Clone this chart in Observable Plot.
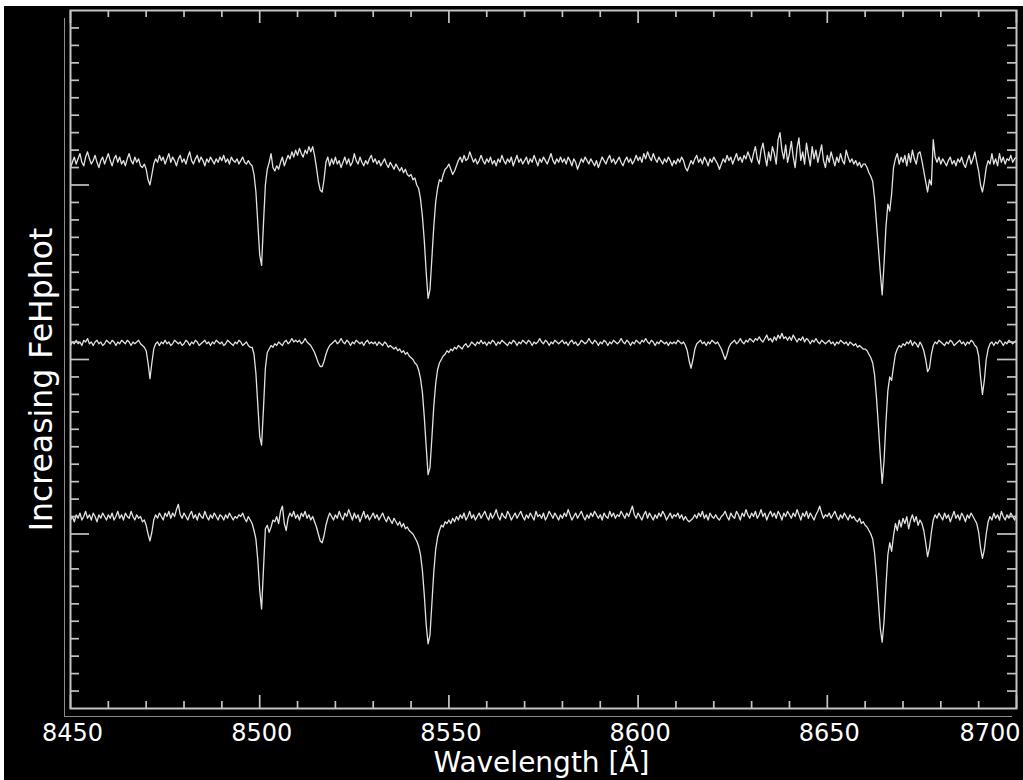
<!DOCTYPE html>
<html>
<head>
<meta charset="utf-8">
<script src="https://cdn.jsdelivr.net/npm/d3@7"></script>
<script src="https://cdn.jsdelivr.net/npm/@observablehq/plot@0.6"></script>
<style>
html, body { margin: 0; padding: 0; background: #fff; }
#chart { position: absolute; left: 4px; top: 6px; width: 1019px; height: 774px; background: #000; overflow: hidden; }
</style>
</head>
<body>
<div id="chart"></div>
<script>
// ---- data ----
const xTitle = "Wavelength [Å]";
const yTitle = "Increasing FeHphot";
const xDomain = [8450, 8700];
const yDomain = [0, 4];
const xTickLabels = [8450, 8500, 8550, 8600, 8650, 8700];
const yMajor = [1, 2, 3];
const lambdaStart = 8450;
const lambdaStep = 0.5;
const seriesNames = ["high", "mid", "low"];

const spectrumHigh = [
3.10,3.13,3.16,3.12,3.15,3.18,3.13,3.11,3.16,3.19,3.15,3.12,3.14,3.17,3.13,3.10,3.14,3.16,3.12,3.15,
3.18,3.14,3.11,3.15,3.17,3.13,3.16,3.12,3.14,3.11,3.15,3.18,3.14,3.12,3.16,3.13,3.15,3.11,3.10,3.12,
3.09,3.03,3.00,3.06,3.12,3.15,3.13,3.17,3.14,3.16,3.12,3.15,3.18,3.13,3.16,3.14,3.11,3.15,3.17,3.13,
3.15,3.12,3.16,3.19,3.14,3.12,3.15,3.17,3.13,3.16,3.14,3.11,3.15,3.13,3.16,3.14,3.12,3.15,3.13,3.16,
3.14,3.17,3.13,3.15,3.12,3.16,3.14,3.13,3.15,3.12,3.14,3.16,3.13,3.12,3.14,3.12,3.11,3.06,2.96,2.78,
2.60,2.54,2.78,3.00,3.09,3.13,3.18,3.10,3.08,3.11,3.09,3.13,3.16,3.11,3.14,3.17,3.15,3.19,3.16,3.20,
3.17,3.21,3.18,3.16,3.20,3.18,3.22,3.19,3.22,3.17,3.10,3.02,2.97,2.96,3.03,3.13,3.16,3.11,3.15,3.12,
3.16,3.12,3.14,3.10,3.13,3.16,3.12,3.15,3.11,3.13,3.18,3.14,3.12,3.16,3.13,3.11,3.14,3.12,3.15,3.17,
3.13,3.15,3.12,3.14,3.11,3.13,3.15,3.12,3.10,3.13,3.11,3.09,3.12,3.10,3.08,3.10,3.07,3.09,3.06,3.05,
3.06,3.03,3.04,3.00,2.98,2.92,2.82,2.68,2.50,2.35,2.40,2.58,2.76,2.90,2.98,3.03,3.02,3.06,3.09,3.10,
3.12,3.09,3.06,3.08,3.11,3.14,3.16,3.13,3.17,3.14,3.15,3.19,3.16,3.13,3.15,3.12,3.14,3.17,3.14,3.12,
3.15,3.13,3.16,3.12,3.14,3.11,3.15,3.13,3.17,3.14,3.12,3.15,3.13,3.16,3.11,3.14,3.17,3.13,3.15,3.12,
3.14,3.16,3.12,3.15,3.13,3.17,3.14,3.11,3.15,3.13,3.16,3.14,3.12,3.15,3.18,3.14,3.12,3.15,3.13,3.16,
3.13,3.15,3.12,3.16,3.14,3.11,3.15,3.13,3.09,3.12,3.15,3.13,3.16,3.14,3.12,3.15,3.13,3.11,3.14,3.10,
3.13,3.16,3.14,3.12,3.15,3.17,3.13,3.15,3.12,3.14,3.16,3.13,3.11,3.14,3.16,3.13,3.15,3.12,3.14,3.17,
3.14,3.16,3.13,3.18,3.15,3.19,3.16,3.14,3.18,3.15,3.13,3.16,3.14,3.12,3.15,3.13,3.16,3.14,3.11,3.14,
3.12,3.15,3.13,3.16,3.14,3.10,3.08,3.11,3.14,3.12,3.15,3.17,3.13,3.15,3.12,3.16,3.14,3.11,3.15,3.13,
3.16,3.14,3.12,3.09,3.12,3.15,3.13,3.17,3.14,3.16,3.12,3.15,3.18,3.14,3.16,3.13,3.17,3.15,3.19,3.16,
3.13,3.18,3.22,3.15,3.12,3.20,3.24,3.17,3.11,3.19,3.14,3.22,3.18,3.12,3.26,3.30,3.20,3.15,3.23,3.13,
3.18,3.25,3.16,3.10,3.21,3.27,3.14,3.19,3.12,3.24,3.17,3.11,3.22,3.15,3.20,3.13,3.18,3.23,3.14,3.10,
3.17,3.13,3.19,3.15,3.11,3.16,3.13,3.18,3.14,3.12,3.20,3.16,3.13,3.15,3.12,3.14,3.11,3.13,3.10,3.12,
3.12,3.10,3.07,3.05,3.02,2.92,2.78,2.64,2.50,2.37,2.55,2.76,2.89,2.85,2.95,3.10,3.15,3.18,3.12,3.16,
3.13,3.17,3.11,3.18,3.13,3.20,3.15,3.12,3.18,3.19,3.14,3.08,3.02,2.96,3.03,3.00,3.26,3.16,3.13,3.16,
3.12,3.15,3.13,3.11,3.14,3.16,3.12,3.14,3.11,3.15,3.13,3.16,3.12,3.10,3.14,3.17,3.12,3.15,3.19,3.13,
3.08,3.00,2.96,3.02,3.10,3.14,3.12,3.18,3.12,3.15,3.11,3.18,3.13,3.16,3.12,3.15,3.14,3.17,3.13,3.15,3.16
];

const spectrumMid = [
2.08,2.10,2.09,2.11,2.09,2.10,2.08,2.11,2.10,2.12,2.09,2.10,2.08,2.10,2.11,2.09,2.10,2.08,2.09,2.11,
2.10,2.09,2.11,2.10,2.08,2.10,2.09,2.11,2.10,2.09,2.11,2.10,2.08,2.10,2.09,2.10,2.11,2.09,2.08,2.07,
2.05,1.98,1.89,1.98,2.06,2.09,2.10,2.08,2.10,2.09,2.11,2.09,2.10,2.08,2.09,2.11,2.10,2.09,2.10,2.08,
2.09,2.11,2.10,2.08,2.10,2.09,2.11,2.10,2.08,2.09,2.10,2.11,2.09,2.10,2.08,2.10,2.09,2.11,2.10,2.09,
2.10,2.08,2.09,2.11,2.10,2.09,2.08,2.10,2.09,2.11,2.10,2.08,2.09,2.10,2.08,2.07,2.07,2.03,1.92,1.74,
1.56,1.51,1.72,1.95,2.04,2.06,2.08,2.07,2.09,2.08,2.10,2.09,2.08,2.10,2.11,2.09,2.10,2.12,2.10,2.11,
2.10,2.11,2.09,2.10,2.12,2.10,2.09,2.08,2.06,2.04,2.01,1.98,1.96,1.96,1.99,2.03,2.06,2.08,2.09,2.10,
2.11,2.09,2.10,2.12,2.10,2.09,2.11,2.10,2.08,2.10,2.09,2.11,2.10,2.09,2.10,2.08,2.10,2.11,2.09,2.10,
2.09,2.10,2.08,2.10,2.09,2.08,2.10,2.09,2.07,2.08,2.07,2.06,2.07,2.05,2.06,2.04,2.05,2.03,2.04,2.02,
2.01,2.00,1.98,1.97,1.94,1.89,1.81,1.67,1.50,1.34,1.38,1.55,1.73,1.86,1.94,1.98,2.00,2.02,2.03,2.05,
2.04,2.06,2.05,2.07,2.06,2.08,2.07,2.06,2.08,2.09,2.07,2.08,2.10,2.09,2.08,2.10,2.09,2.11,2.09,2.10,
2.08,2.10,2.09,2.11,2.10,2.08,2.10,2.09,2.11,2.10,2.09,2.08,2.10,2.09,2.11,2.10,2.08,2.10,2.09,2.11,
2.10,2.09,2.11,2.10,2.08,2.10,2.09,2.10,2.12,2.10,2.09,2.11,2.10,2.08,2.10,2.09,2.11,2.10,2.09,2.10,
2.11,2.09,2.10,2.08,2.10,2.11,2.09,2.10,2.08,2.09,2.11,2.10,2.09,2.10,2.12,2.10,2.09,2.11,2.10,2.08,
2.10,2.09,2.11,2.10,2.08,2.10,2.09,2.11,2.10,2.09,2.10,2.12,2.10,2.09,2.11,2.10,2.08,2.10,2.09,2.11,
2.10,2.09,2.11,2.10,2.12,2.10,2.09,2.11,2.10,2.08,2.10,2.09,2.11,2.10,2.09,2.10,2.08,2.10,2.09,2.10,
2.09,2.11,2.10,2.09,2.10,2.08,2.05,1.99,1.95,2.00,2.06,2.09,2.10,2.11,2.09,2.10,2.08,2.10,2.09,2.11,
2.10,2.09,2.10,2.08,2.06,2.03,2.00,2.03,2.07,2.09,2.10,2.11,2.09,2.10,2.12,2.10,2.09,2.11,2.10,2.12,
2.11,2.10,2.12,2.11,2.13,2.11,2.10,2.12,2.14,2.11,2.12,2.10,2.13,2.11,2.14,2.12,2.15,2.12,2.13,2.11,
2.13,2.11,2.14,2.12,2.10,2.12,2.11,2.13,2.10,2.12,2.11,2.09,2.11,2.10,2.12,2.10,2.09,2.11,2.10,2.09,
2.10,2.11,2.09,2.10,2.08,2.10,2.09,2.11,2.10,2.09,2.10,2.08,2.10,2.09,2.08,2.09,2.07,2.08,2.07,2.06,
2.06,2.05,2.03,2.01,1.98,1.91,1.78,1.62,1.45,1.29,1.42,1.64,1.82,1.90,1.88,1.96,2.03,2.06,2.08,2.07,
2.09,2.08,2.10,2.09,2.11,2.08,2.10,2.09,2.07,2.10,2.08,2.05,2.00,1.93,1.95,2.03,2.08,2.10,2.09,2.11,
2.10,2.09,2.08,2.10,2.09,2.11,2.10,2.08,2.09,2.10,2.11,2.09,2.10,2.08,2.10,2.09,2.11,2.10,2.08,2.07,
2.02,1.90,1.80,1.88,2.00,2.06,2.09,2.10,2.08,2.10,2.09,2.11,2.10,2.08,2.10,2.09,2.11,2.10,2.09,2.10,2.11
];

const spectrumLow = [
1.08,1.10,1.07,1.11,1.09,1.12,1.08,1.10,1.13,1.09,1.11,1.08,1.12,1.10,1.07,1.11,1.09,1.12,1.10,1.08,
1.11,1.09,1.12,1.08,1.10,1.13,1.09,1.11,1.08,1.12,1.10,1.09,1.13,1.10,1.08,1.11,1.09,1.10,1.07,1.08,
1.05,1.00,0.96,1.01,1.08,1.11,1.09,1.12,1.10,1.08,1.12,1.10,1.13,1.09,1.12,1.10,1.14,1.17,1.11,1.09,
1.12,1.10,1.08,1.11,1.13,1.09,1.11,1.08,1.12,1.10,1.09,1.13,1.10,1.08,1.11,1.09,1.12,1.10,1.08,1.11,
1.10,1.08,1.11,1.09,1.12,1.10,1.08,1.10,1.09,1.11,1.10,1.12,1.09,1.07,1.10,1.08,1.06,1.02,0.97,0.85,
0.68,0.57,0.80,1.03,1.05,1.01,1.04,1.08,1.07,1.10,1.06,1.13,1.16,1.06,1.02,1.09,1.12,1.10,1.13,1.09,
1.11,1.08,1.12,1.10,1.13,1.09,1.11,1.08,1.10,1.07,1.04,1.00,0.96,0.95,0.99,1.05,1.09,1.12,1.10,1.08,
1.11,1.09,1.13,1.10,1.08,1.12,1.10,1.14,1.11,1.08,1.12,1.09,1.11,1.07,1.10,1.13,1.09,1.11,1.08,1.10,
1.12,1.09,1.11,1.08,1.10,1.12,1.09,1.07,1.10,1.08,1.06,1.09,1.07,1.05,1.07,1.04,1.06,1.03,1.04,1.02,
1.01,1.00,0.98,0.96,0.93,0.88,0.79,0.65,0.48,0.37,0.42,0.60,0.78,0.91,0.98,1.02,1.05,1.04,1.07,1.06,
1.08,1.06,1.09,1.07,1.10,1.08,1.11,1.09,1.12,1.08,1.10,1.13,1.09,1.11,1.08,1.10,1.12,1.09,1.11,1.13,
1.10,1.08,1.12,1.09,1.11,1.14,1.10,1.08,1.12,1.10,1.09,1.13,1.11,1.08,1.10,1.12,1.09,1.11,1.13,1.10,
1.08,1.11,1.09,1.12,1.10,1.08,1.13,1.10,1.11,1.09,1.12,1.08,1.10,1.13,1.11,1.09,1.12,1.10,1.08,1.11,
1.09,1.12,1.10,1.14,1.11,1.08,1.10,1.12,1.09,1.11,1.13,1.10,1.08,1.11,1.09,1.12,1.10,1.13,1.11,1.09,
1.11,1.08,1.12,1.10,1.09,1.13,1.10,1.12,1.09,1.11,1.10,1.13,1.11,1.09,1.12,1.10,1.13,1.16,1.11,1.09,
1.12,1.10,1.08,1.11,1.13,1.09,1.12,1.10,1.08,1.11,1.09,1.12,1.10,1.13,1.11,1.08,1.10,1.12,1.09,1.11,
1.10,1.12,1.09,1.11,1.08,1.10,1.08,1.07,1.08,1.09,1.11,1.09,1.12,1.10,1.13,1.09,1.11,1.08,1.12,1.10,
1.09,1.11,1.09,1.08,1.10,1.11,1.13,1.10,1.08,1.12,1.10,1.09,1.13,1.11,1.08,1.12,1.10,1.14,1.11,1.09,
1.12,1.10,1.13,1.09,1.11,1.14,1.10,1.12,1.08,1.11,1.13,1.10,1.12,1.09,1.13,1.11,1.08,1.12,1.10,1.13,
1.11,1.09,1.12,1.10,1.14,1.11,1.08,1.12,1.10,1.13,1.09,1.12,1.10,1.08,1.11,1.13,1.16,1.12,1.09,1.11,
1.10,1.12,1.09,1.11,1.13,1.10,1.08,1.11,1.09,1.12,1.10,1.08,1.11,1.09,1.10,1.08,1.07,1.09,1.06,1.07,
1.05,1.04,1.02,1.00,0.97,0.89,0.76,0.61,0.46,0.38,0.50,0.70,0.88,0.95,0.90,0.99,1.06,1.02,1.08,1.04,
1.09,1.06,1.10,1.03,1.08,1.11,1.07,1.10,1.05,1.08,1.06,1.02,0.95,0.87,0.92,1.01,1.08,1.11,1.09,1.12,
1.10,1.08,1.12,1.09,1.11,1.07,1.10,1.13,1.09,1.11,1.08,1.12,1.10,1.07,1.11,1.09,1.12,1.10,1.08,1.06,
1.01,0.92,0.86,0.91,1.00,1.07,1.10,1.08,1.12,1.09,1.11,1.08,1.13,1.10,1.08,1.11,1.09,1.12,1.10,1.08,1.11
];

// ---- build table ----
const spectra = [spectrumHigh, spectrumMid, spectrumLow];
const rows = spectra.flatMap((vals, s) =>
  vals.map((v, i) => ({ wl: lambdaStart + i * lambdaStep, flux: v, star: seriesNames[s] })));

const xMinor = d3.range(xDomain[0], xDomain[1] + 1, 10).filter(v => !xTickLabels.includes(v));
const yMinor = d3.range(1, 40).filter(i => i % 10 !== 0).map(i => i / 10);

// ---- layout ----
const W = 1019, H = 774, mL = 66, mR = 7, mT = 4, mB = 72;
const innerW = W - mL - mR;
const innerH = H - mT - mB;
const frameColor = "#c4c4c4";
const tickStyle = { stroke: frameColor, strokeWidth: 1.7 };

const chart = Plot.plot({
  width: W, height: H,
  marginLeft: mL, marginRight: mR, marginTop: mT, marginBottom: mB,
  style: { background: "#000", fontFamily: "'DejaVu Sans', sans-serif", overflow: "visible" },
  x: { domain: xDomain, axis: null },
  y: { domain: yDomain, axis: null },
  marks: [
    Plot.line(rows, { x: "wl", y: "flux", z: "star", stroke: "#e2e2e2", strokeWidth: 1.3, strokeLinejoin: "round" }),
    // bottom ticks (inward)
    Plot.tickX(xMinor, { x: d => d, insetTop: innerH - 7, ...tickStyle }),
    Plot.tickX(xTickLabels, { x: d => d, insetTop: innerH - 13, ...tickStyle }),
    // top ticks
    Plot.tickX(xMinor, { x: d => d, insetBottom: innerH - 7, ...tickStyle }),
    Plot.tickX(xTickLabels, { x: d => d, insetBottom: innerH - 13, ...tickStyle }),
    // left ticks
    Plot.tickY(yMinor, { y: d => d, insetRight: innerW - 9, ...tickStyle }),
    Plot.tickY(yMajor, { y: d => d, insetRight: innerW - 19, ...tickStyle }),
    // right ticks
    Plot.tickY(yMinor, { y: d => d, insetLeft: innerW - 9, ...tickStyle }),
    Plot.tickY(yMajor, { y: d => d, insetLeft: innerW - 19, ...tickStyle }),
    Plot.frame({ stroke: frameColor, strokeWidth: 2 }),
    // offset thin axis lines
    Plot.ruleX([xDomain[0]], { dx: -6, insetTop: 8, insetBottom: -8, stroke: "#8c8c8c", strokeWidth: 1 }),
    Plot.ruleY([yDomain[0]], { dy: 8, insetLeft: -6, insetRight: 4, stroke: "#8c8c8c", strokeWidth: 1 }),
    // tick labels
    Plot.text(xTickLabels.slice(0, -1), { x: d => d, text: d => String(d), frameAnchor: "bottom", lineAnchor: "middle", dy: 25, dx: 2, fontSize: 24, fill: "#fff" }),
    Plot.text(xTickLabels.slice(-1), { x: d => d, text: d => String(d), frameAnchor: "bottom", lineAnchor: "middle", dy: 25, dx: 4, textAnchor: "end", fontSize: 24, fill: "#fff" }),
    // titles
    Plot.text([xTitle], { text: d => d, frameAnchor: "bottom", lineAnchor: "middle", dy: 55, dx: -2, fontSize: 28, fill: "#fff" }),
    Plot.text([yTitle], { text: d => d, frameAnchor: "left", textAnchor: "middle", lineAnchor: "middle", rotate: -90, dx: -29, dy: 20, fontSize: 31.5, fill: "#fff" })
  ]
});
document.getElementById("chart").appendChild(chart);
</script>
</body>
</html>
